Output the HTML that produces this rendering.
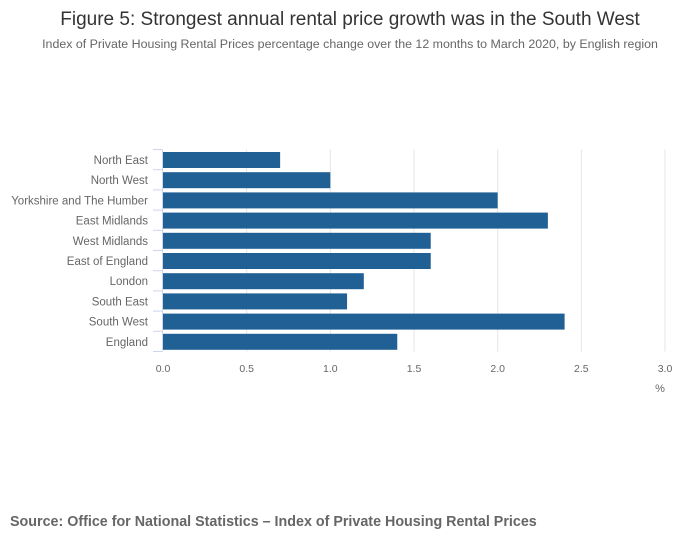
<!DOCTYPE html>
<html><head><meta charset="utf-8"><style>
body{margin:0;background:#fff;font-family:"Liberation Sans",sans-serif;}
</style></head><body>
<svg width="700" height="549" xmlns="http://www.w3.org/2000/svg">
<text x="350" y="25" text-anchor="middle" font-size="19" fill="#333">Figure 5: Strongest annual rental price growth was in the South West</text>
<text x="350" y="48" text-anchor="middle" font-size="12.4" fill="#666">Index of Private Housing Rental Prices percentage change over the 12 months to March 2020, by English region</text>
<g id="grid"></g>
<g id="bars"></g>
<g id="ylab"></g>
<g id="xlab"></g>
<text x="660" y="392" text-anchor="middle" font-size="11" fill="#666">%</text>
<text x="10" y="526" font-size="14.3" font-weight="bold" fill="#666">Source: Office for National Statistics – Index of Private Housing Rental Prices</text>
</svg>
<script>
const categories=["North East","North West","Yorkshire and The Humber","East Midlands","West Midlands","East of England","London","South East","South West","England"];
const values=[0.7,1.0,2.0,2.3,1.6,1.6,1.2,1.1,2.4,1.4];
const xTicks=[0,0.5,1,1.5,2,2.5,3];
const xTickLabels=["0.0","0.5","1.0","1.5","2.0","2.5","3.0"];
const NS="http://www.w3.org/2000/svg";
const x0=163,x1=665,yTop=149.5,rowH=20.2;
const xs=v=>x0+(x1-x0)*v/3;
function mk(t,a,p){const e=document.createElementNS(NS,t);for(const k in a)e.setAttribute(k,a[k]);p.appendChild(e);return e;}
const grid=document.getElementById('grid'),bars=document.getElementById('bars'),yl=document.getElementById('ylab'),xl=document.getElementById('xlab');
xTicks.forEach((t,i)=>{
 if(i>0){const l=mk('line',{x1:xs(t),x2:xs(t),y1:yTop,y2:yTop+rowH*categories.length,stroke:'#e6e6e6'},grid);
 
 }
 const tx=mk('text',{x:xs(t),y:372,'text-anchor':'middle','font-size':'10.5','fill':'#666'},xl);
 tx.textContent=xTickLabels[i];
 
 
});
const ax=mk('line',{x1:162.5,x2:162.5,y1:yTop,y2:yTop+rowH*categories.length,stroke:'#ccd6eb'},grid);


for(let i=0;i<=categories.length;i++){const tk=mk('line',{x1:153,x2:162,y1:yTop+rowH*i,y2:yTop+rowH*i,stroke:'#ccd6eb'},grid);
 
 }
categories.forEach((c,i)=>{
 const y=yTop+rowH*i;
 const r=mk('rect',{x:x0,y:y+2.5,width:xs(values[i])-x0,height:16,fill:'#206095'},bars);
 
 
 const t=mk('text',{x:148,y:y+14.5,'text-anchor':'end','font-size':'11.5','fill':'#666'},yl);
 t.textContent=c;
 
 
});
</script>
</body></html>
